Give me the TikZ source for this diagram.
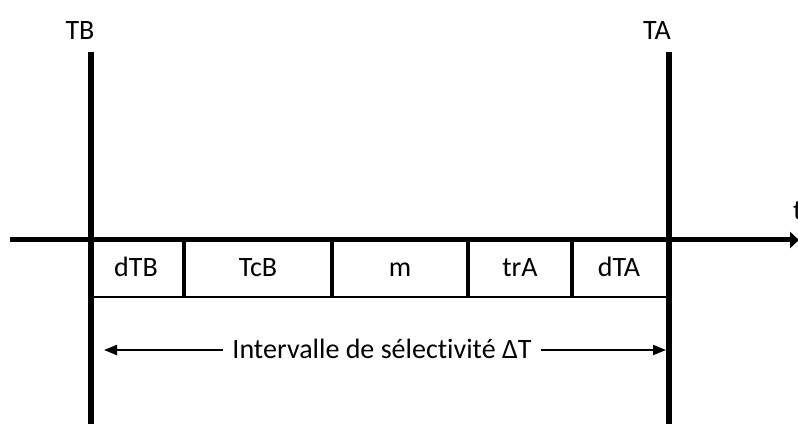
\documentclass[tikz,border=0pt]{standalone}
\usepackage{fontspec}
\setmainfont[Ligatures=NoCommon]{Carlito}
\usetikzlibrary{arrows.meta}
\begin{document}
\begin{tikzpicture}[x=1pt,y=-1pt,
  lbl/.style={font=\fontsize{28}{30}\selectfont, inner sep=0pt, anchor=base},
  timeline/.style={line width=5.5pt},
  axisline/.style={line width=5pt, -{Triangle[length=9pt,width=16pt]}},
  divider/.style={line width=3.5pt},
  baseline/.style={line width=2.5pt},
  spanarrow/.style={line width=2pt, -{Triangle[length=13pt,width=10pt]}}]
\useasboundingbox (0,0) rectangle (798,430);

% instants TB and TA
\coordinate (tbtop) at (91,52);
\coordinate (tbbot) at (91,424);
\coordinate (tatop) at (669,52);
\coordinate (tabot) at (669,424);
\node[lbl] (TB) at (80,40) {TB};
\node[lbl] (TA) at (657,40) {TA};

% time axis
\coordinate (ax0) at (10,240);
\coordinate (ax1) at (799,240);
\draw[axisline] (ax0) -- (ax1);
\node[lbl, anchor=base west] (t) at (793,220) {t};

% bottom edge of the chain of delays
\coordinate (b0) at (91,297);
\coordinate (b1) at (669,297);
\draw[baseline] (b0) -- (b1);

% dividers between delays
\foreach \x [count=\i] in {184,332,468,572}{
  \coordinate (dt\i) at (\x,240);
  \coordinate (db\i) at (\x,297);
  \draw[divider] (dt\i) -- (db\i);
}

\draw[timeline] (tbtop) -- (tbbot);
\draw[timeline] (tatop) -- (tabot);

% delay labels
\node[lbl] (dTB) at (136,277) {dTB};
\node[lbl] (TcB) at (258,277) {TcB};
\node[lbl] (m)   at (400,277) {m};
\node[lbl] (trA) at (520,277) {trA};
\node[lbl] (dTA) at (619,277) {dTA};

% selectivity interval
\node[lbl, inner xsep=9pt] (sel) at (382,359) {Intervalle de sélectivité ΔT};
\coordinate (sl) at (104,350);
\coordinate (sr) at (666,350);
\draw[spanarrow] (sel.west |- sl) -- (sl);
\draw[spanarrow] (sel.east |- sr) -- (sr);
\end{tikzpicture}
\end{document}
